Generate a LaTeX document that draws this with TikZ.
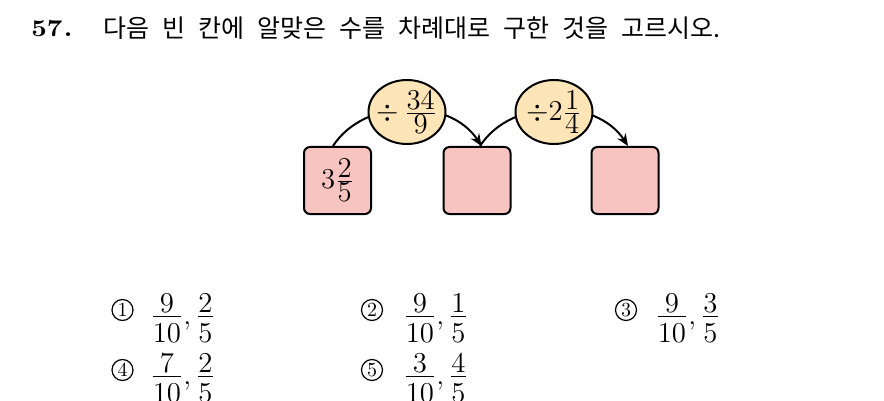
\documentclass[tikz,border=0pt]{standalone}
\usepackage{amsmath}
\usepackage{graphicx}
\usepackage{fontspec}
\newfontfamily\kr{Noto Sans CJK KR}
\usetikzlibrary{arrows.meta,shapes.geometric}
\definecolor{boxpink}{RGB}{247,196,192}
\definecolor{ellpeach}{RGB}{253,229,183}
\newcommand\tallfrac[2]{\frac{\displaystyle #1}{\displaystyle #2}}
\newcommand\choicefrac[2]{\frac{\displaystyle #1}{\displaystyle\rule{0pt}{12pt}#2}}
\newcommand\krtitle{\kr\fontsize{12.5}{15}\selectfont\spaceskip=6.5pt plus 1pt\relax}
\begin{document}
\begin{tikzpicture}[x=0.5pt,y=-0.5pt,
  numbox/.style={draw=black,line width=1pt,fill=boxpink,rounded corners=3pt,minimum width=33.5pt,minimum height=33.5pt,inner sep=0pt,font=\fontsize{14}{16}\selectfont},
  opell/.style={draw=black,line width=1pt,fill=ellpeach,ellipse,minimum width=38.5pt,minimum height=32pt,inner sep=0pt},
  optext/.style={inner sep=0pt,font=\fontsize{14}{16}\selectfont},
  flow/.style={line width=1pt,-{Stealth[length=6pt,width=5pt]}},
  choicenum/.style={circle,draw,line width=0.6pt,minimum size=10.5pt,inner sep=0pt,font=\fontsize{10}{10}\selectfont},
  choicetxt/.style={anchor=base west,inner sep=0pt,font=\fontsize{14}{16}\selectfont}
]
\useasboundingbox (0,0) rectangle (884,401);
% title
\node[anchor=base east,inner sep=0pt] (num) at (73,37) {\scalebox{1.35}[1.2]{\bfseries 57\kern0.6pt.}};
\node[anchor=base west,inner sep=0pt,font=\krtitle] (q) at (103,38) {다음 빈 칸에 알맞은 수를 차례대로 구한 것을 고르시오.};
% boxes
\node[numbox] (b1) at (337.5,180.5) {$3\tallfrac{2}{5}$};
\node[numbox] (b2) at (477,180.5) {};
\node[numbox] (b3) at (625,180.5) {};
% arcs
\draw[flow] ([xshift=-2.25pt]b1.north) to[out=57,in=123] ([xshift=2.25pt]b2.north);
\draw[flow] ([xshift=1.5pt]b2.north) to[out=57,in=123] ([xshift=1.5pt]b3.north);
% ellipses
\node[opell] (e1) at (407,112) {};
\node[optext] (e1t) at (e1.center) {$\div\,\tallfrac{34}{9}$};
\node[opell] (e2) at (554,112) {};
\node[optext] (e2t) at (e2.center) {$\div2\tallfrac{1}{4}$};
% choices
\node[choicenum] (c1) at (122.5,310) {1};
\node[choicetxt] (t1) at (150,324) {$\choicefrac{9}{10},\choicefrac{2}{5}$};
\node[choicenum] (c2) at (372,310) {2};
\node[choicetxt] (t2) at (403,324) {$\choicefrac{9}{10},\choicefrac{1}{5}$};
\node[choicenum] (c3) at (626,310) {3};
\node[choicetxt] (t3) at (655,324) {$\choicefrac{9}{10},\choicefrac{3}{5}$};
\node[choicenum] (c4) at (122.5,370) {4};
\node[choicetxt] (t4) at (150,384) {$\choicefrac{7}{10},\choicefrac{2}{5}$};
\node[choicenum] (c5) at (372,370) {5};
\node[choicetxt] (t5) at (403,384) {$\choicefrac{3}{10},\choicefrac{4}{5}$};
\end{tikzpicture}
\end{document}
